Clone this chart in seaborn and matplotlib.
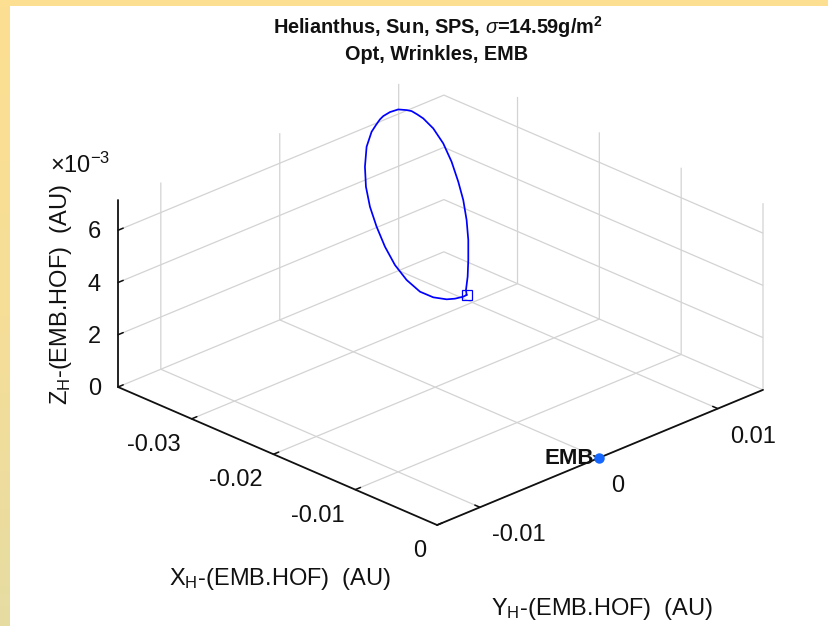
import numpy as np
import matplotlib
matplotlib.use("Agg")
import matplotlib.pyplot as plt
import seaborn as sns
from matplotlib.patches import Rectangle
from matplotlib.colors import LinearSegmentedColormap
from mpl_toolkits.mplot3d import proj3d

# ---------------- data (AU, Hill frame centred on EMB) ----------------
x_orbit = [-0.020958, -0.020987, -0.021206, -0.021515, -0.022219, -0.023169,
           -0.024527, -0.026040, -0.027707, -0.029417, -0.031055, -0.032581,
           -0.033978, -0.035263, -0.036066, -0.036334, -0.036548, -0.036631,
           -0.036618, -0.036445, -0.036045, -0.035765, -0.035299, -0.034771,
           -0.034221, -0.033669, -0.032228, -0.030630, -0.028991, -0.027537,
           -0.026040, -0.024614, -0.023259, -0.022157, -0.021325, -0.020958]
y_orbit = [0.003302, 0.003040, 0.002491, 0.002004, 0.001365, 0.000899,
           0.000713, 0.000771, 0.001077, 0.001552, 0.002118, 0.002831,
           0.003708, 0.004731, 0.005704, 0.006251, 0.006735, 0.007073,
           0.007624, 0.008204, 0.008631, 0.008859, 0.009014, 0.009155,
           0.009196, 0.009237, 0.009087, 0.008689, 0.008124, 0.007543,
           0.006795, 0.005955, 0.005023, 0.004210, 0.003498, 0.003302]
z_orbit = [0.0027751, 0.0027566, 0.0027540, 0.0027787, 0.0028802, 0.0030560,
           0.0033536, 0.0037113, 0.0041289, 0.0045728, 0.0050091, 0.0054333,
           0.0058438, 0.0062419, 0.0065235, 0.0066391, 0.0067359, 0.0067883,
           0.0068390, 0.0068551, 0.0068035, 0.0067603, 0.0066669, 0.0065583,
           0.0064339, 0.0063097, 0.0059596, 0.0055493, 0.0051131, 0.0047183,
           0.0042971, 0.0038837, 0.0034778, 0.0031426, 0.0028797, 0.0027751]
emb_point = [0.0, 0.0, 0.0]
emb_label = "EMB"

x_ticks = [-0.03, -0.02, -0.01, 0.0]
y_ticks = [-0.01, 0.0, 0.01]
z_ticks = [0.0, 0.002, 0.004, 0.006]
x_tick_labels = ["-0.03", "-0.02", "-0.01", "0"]
y_tick_labels = ["-0.01", "0", "0.01"]
z_tick_labels = ["0", "2", "4", "6"]
x_lim = (-0.039, 0.0)
y_lim = (-0.0136, 0.0138)
z_lim = (0.0, 0.00715)

title_line1 = r"Helianthus, Sun, SPS, $\sigma$=14.59g/m$^{\mathbf{2}}$"
title_line2 = "Opt, Wrinkles, EMB"
x_label = r"X$_{\mathregular{H}}$-(EMB.HOF)  (AU)"
y_label = r"Y$_{\mathregular{H}}$-(EMB.HOF)  (AU)"
z_label = r"Z$_{\mathregular{H}}$-(EMB.HOF)  (AU)"
z_multiplier = r"×10$^{\mathregular{-3}}$"

# ---------------- style ----------------
sns.set_theme(style="white")
INK = "#111111"
plt.rcParams.update({
    "axes.edgecolor": INK,
    "axes.linewidth": 1.3,
    "xtick.color": INK, "ytick.color": INK,
    "xtick.major.width": 1.1, "ytick.major.width": 1.1,
    "grid.color": "#d3d3d3", "grid.linewidth": 0.9, "grid.linestyle": "-",
    "text.color": INK,
    "mathtext.fontset": "custom",
    "mathtext.rm": "Liberation Sans",
    "mathtext.it": "Liberation Sans:italic",
    "mathtext.bf": "Liberation Sans:bold",
})
plt.rcParams["font.family"] = ["Liberation Sans", "DejaVu Sans"]

W, H, DPI = 829, 626, 100
fig = plt.figure(figsize=(W / DPI, H / DPI), dpi=DPI)
fig.patch.set_facecolor("white")

# decorative frame strips (top and left)
fig.add_artist(Rectangle((0, 1 - 6 / H), 1, 6 / H, transform=fig.transFigure,
                         facecolor="#FCDF91", edgecolor="none", zorder=5))
strip = fig.add_axes([0, 0, 10 / W, 1 - 6 / H])
cmap = LinearSegmentedColormap.from_list("strip", ["#FCDF91", "#F6DE98", "#E6DCA2"])
strip.imshow(np.linspace(0, 1, 256)[:, None], aspect="auto", cmap=cmap)
strip.set_axis_off()

ax = fig.add_axes([0.1, 0.1, 0.8, 0.8], projection="3d")
ax.set_proj_type("ortho")
ax.view_init(elev=25.06, azim=-44.4)
ax.set_box_aspect((1, 1, 0.452))
ax.set_xlim(*x_lim)
ax.set_ylim(*y_lim)
ax.set_zlim(*z_lim)
ax.set_xticks(x_ticks)
ax.set_yticks(y_ticks)
ax.set_zticks(z_ticks)
for axis in (ax.xaxis, ax.yaxis, ax.zaxis):
    axis.set_major_formatter(plt.NullFormatter())
    axis.set_pane_color((1, 1, 1, 0))
    axis.label.set_visible(False)
    axis.offsetText.set_visible(False)
    axis._axinfo["tick"]["inward_factor"] = 0.0
    axis._axinfo["tick"]["outward_factor"] = 0.2
    axis._axinfo["axisline"]["color"] = INK
    axis._axinfo["axisline"]["linewidth"] = 1.3
    axis._axinfo["grid"]["color"] = "#d3d3d3"
    axis._axinfo["grid"]["linewidth"] = 0.9
ax.grid(True)
ax.patch.set_alpha(0)

# orbit and markers
ax.plot(x_orbit, y_orbit, z_orbit, color="#0000ff", lw=1.25)
ax.plot([x_orbit[0]], [y_orbit[0]], [z_orbit[0]], marker="s", ms=6.5, mfc="none",
        mec="#0000ff", mew=0.9, ls="none")
ax.plot([emb_point[0]], [emb_point[1]], [emb_point[2]], marker="o", ms=6.5,
        color="#1466ff", ls="none")


def to_px(x, y, z):
    xs, ys, _ = proj3d.proj_transform(x, y, z, ax.get_proj())
    return ax.transData.transform((xs, ys))


# put the z axis line on the left vertical edge of the box, as in the reference
fig.canvas.draw()
for side in ("lower", "upper"):
    ax.zaxis.set_ticks_position(side)
    fig.canvas.draw()
    xd = np.asarray(ax.zaxis.line.get_xdata(), float)
    yd = np.asarray(ax.zaxis.line.get_ydata(), float)
    line_px = ax.transData.transform(np.column_stack([xd, yd]))
    if line_px[:, 0].mean() < to_px(0.5 * sum(x_lim), 0.5 * sum(y_lim), 0)[0]:
        break

# ---- fit the axes so the box lands where the reference box is ----
target_left = (118, H - 387)
target_right_x = 763
pL = to_px(x_lim[0], y_lim[0], z_lim[0])
pR = to_px(x_lim[1], y_lim[1], z_lim[0])
s = (target_right_x - target_left[0]) / (pR[0] - pL[0])
bb = ax.get_position()
cx, cy = bb.x0 + bb.width / 2, bb.y0 + bb.height / 2
nw, nh = bb.width * s, bb.height * s
ax.set_position([cx - nw / 2, cy - nh / 2, nw, nh])
fig.canvas.draw()
pL = to_px(x_lim[0], y_lim[0], z_lim[0])
bb = ax.get_position()
ax.set_position([bb.x0 + (target_left[0] - pL[0]) / W,
                 bb.y0 + (target_left[1] - pL[1]) / H, bb.width, bb.height])
fig.canvas.draw()


# ---- tick labels placed at the projected tick positions (MATLAB-like offsets) ----
def label_at(point3d, text, dx, dy, **kw):
    px, py = to_px(*point3d)
    fig.text((px + dx) / W, (py + dy) / H, text, **kw)


TICK_FS = 17
for xv, lab in zip(x_ticks, x_tick_labels):
    label_at((xv, y_lim[0], z_lim[0]), lab, -11, -26, ha="right", va="center",
             fontsize=TICK_FS)
for yv, lab in zip(y_ticks, y_tick_labels):
    label_at((x_lim[1], yv, z_lim[0]), lab, 12, -28, ha="left", va="center",
             fontsize=TICK_FS)
for zv, lab in zip(z_ticks, z_tick_labels):
    label_at((x_lim[0], y_lim[0], zv), lab, -17, -2, ha="right", va="center",
             fontsize=TICK_FS)
label_at(tuple(emb_point), emb_label, -5, -1, ha="right", va="center",
         fontsize=16, fontweight="bold")

# ---- titles and axis labels ----
fig.text(438 / W, 1 - 34 / H, title_line1, ha="center", va="baseline",
         fontsize=14.3, fontweight="bold")
fig.text(437 / W, 1 - 60 / H, title_line2, ha="center", va="baseline",
         fontsize=14.3, fontweight="bold")
fig.text(280 / W, 1 - 585 / H, x_label, ha="center", va="baseline", fontsize=TICK_FS)
fig.text(602 / W, 1 - 615 / H, y_label, ha="center", va="baseline", fontsize=TICK_FS)
fig.text(67 / W, 1 - 295 / H, z_label, ha="center", va="baseline", rotation=90,
         rotation_mode="anchor", fontsize=TICK_FS)
fig.text(50 / W, 1 - 173 / H, z_multiplier, ha="left", va="baseline", fontsize=TICK_FS)

fig.savefig("out.png", dpi=DPI)
